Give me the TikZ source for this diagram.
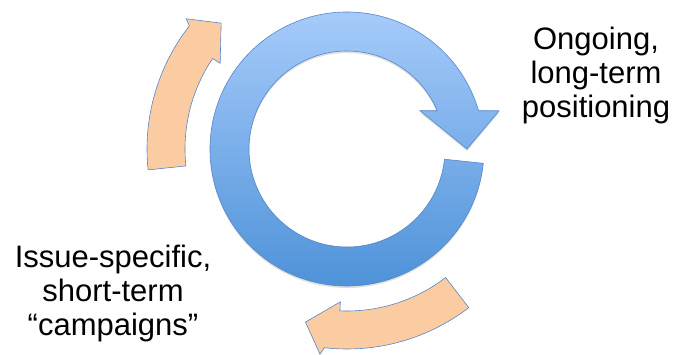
\documentclass[tikz,border=0pt]{standalone}
\usepackage{fontspec}
\setmainfont{Liberation Sans}
\usetikzlibrary{shadows}

\definecolor{ringtop}{RGB}{168,204,251}
\definecolor{ringbot}{RGB}{76,145,216}
\definecolor{ringline}{RGB}{84,134,200}
\definecolor{peach}{RGB}{251,203,162}

\begin{document}
\begin{tikzpicture}[x=1pt,y=1pt,
    ring/.style={draw=ringline, line width=0.6pt, top color=ringtop, bottom color=ringbot,
      drop shadow={opacity=0.25, shadow xshift=0pt, shadow yshift=-2pt}},
    sidearrow/.style={draw=ringline, line width=0.6pt, fill=peach},
    sidetext/.style={font=\fontsize{31}{34}\selectfont, align=center, inner sep=0pt, anchor=north}]
  \useasboundingbox (0,0) rectangle (676,354);
  \begin{scope}[shift={(347,205)}]
    %blue ring
    \path[ring] (-6:137) arc[start angle=-6, end angle=-343.76, radius=137]
      -- (14.1:156.8) -- (0:120) -- (27.7:82.4) -- (23:98)
      arc[start angle=23, end angle=354, radius=98] -- cycle;
    %orange arrows
    \foreach \s in {186,-52.5}
      \draw[sidearrow] (\s:200) arc[start angle=\s, end angle=\s-44, radius=200]
        -- ({\s-45}:207) -- ({\s-51}:178) -- ({\s-40}:153) -- ({\s-40}:162)
        arc[start angle=\s-40, end angle=\s, radius=162] -- cycle;
  \end{scope}
  %labels
  \node[sidetext] (ongoing) at (596,327.5) {Ongoing,\\long-term\\positioning};
  \node[sidetext] (issue) at (113,109.5) {Issue-specific,\\short-term\\“campaigns”};
\end{tikzpicture}
\end{document}
